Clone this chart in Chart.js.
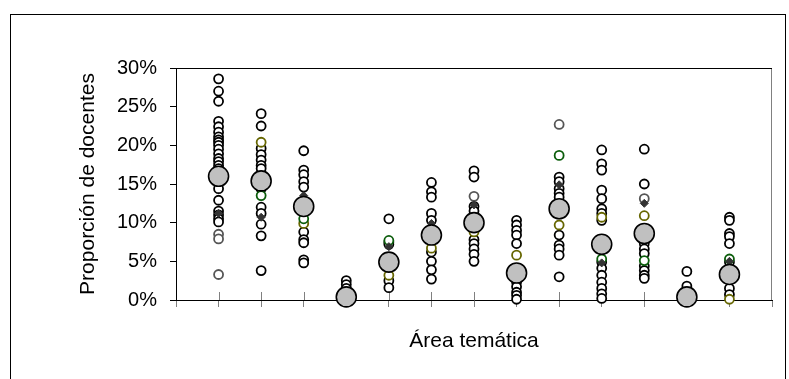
<!DOCTYPE html>
<html>
<head>
<meta charset="utf-8">
<script src="https://cdn.jsdelivr.net/npm/chart.js@4"></script>
<style>
  html, body { margin: 0; padding: 0; background: #fff; }
</style>
</head>
<body>
<canvas id="grafico" width="789" height="379"></canvas>
<script>
// Posición de cada área temática en el eje X (sin etiquetas)
const categorias = [1, 2, 3, 4, 5, 6, 7, 8, 9, 10, 11, 12, 13];

// Valores (%), una lista por área temática
const negros = [
  [28.6, 27.0, 25.7, 23.1, 22.4, 21.7, 21.1, 20.7, 20.4, 20.0, 19.5, 18.9, 18.3, 17.9, 17.4, 17.0, 14.4, 12.9, 11.5, 11.0, 10.5, 10.1],
  [24.1, 22.5, 19.6, 18.8, 18.1, 17.4, 17.0, 14.4, 12.0, 11.2, 9.8, 8.3, 3.8],
  [19.3, 16.8, 16.2, 15.3, 14.6, 8.8, 7.8, 7.4, 5.2, 4.8],
  [2.5, 2.0, 1.5, 0.8, 0.3],
  [10.5, 7.5, 7.2, 2.5, 1.6],
  [15.2, 14.0, 13.3, 11.2, 10.3, 6.2, 5.0, 3.9, 2.7],
  [16.7, 15.9, 12.1, 11.5, 7.8, 7.3, 6.6, 5.9, 5.0],
  [10.3, 9.7, 9.0, 8.4, 7.3, 2.3, 1.7, 1.0, 0.6, 0.1],
  [15.9, 15.3, 14.4, 13.8, 13.3, 8.4, 7.1, 6.6, 5.8, 3.0],
  [19.4, 17.6, 16.8, 14.2, 13.1, 11.8, 11.2, 10.3, 4.9, 4.1, 3.2, 2.3, 1.5, 0.8, 0.2],
  [19.5, 15.0, 7.9, 7.3, 6.6, 6.0, 4.4, 3.8, 3.2, 2.8],
  [3.7, 1.8, 0.8],
  [10.7, 10.3, 8.6, 8.2, 7.3, 4.9, 1.5, 0.7]
];
const grises = [[8.5, 7.9, 3.3], [], [], [], [], [], [13.4], [], [22.7], [], [13.1], [], []];
const oliva = [[], [20.4], [9.9], [], [3.2], [6.7], [8.8], [5.8], [9.7], [10.7], [10.9], [], [0.1]];
const verdes = [[], [13.5], [10.5], [], [7.7], [], [], [], [18.7], [5.3], [5.1], [], [5.3]];
const marcas = [[11.2], [10.7], [13.5], [], [6.9], [9.9], [12.3], [], [14.9], [4.8], [12.5], [], [5.0]];
const medias = [16.0, 15.4, 12.1, 0.4, 4.9, 8.4, 10.0, 3.5, 11.8, 7.2, 8.6, 0.4, 3.3];

const ejeY = { min: 0, max: 30, paso: 5 };

const fuente = "'Liberation Sans', Arial, sans-serif";

function puntos(listas) {
  return listas.flatMap((vals, i) => vals.map(v => ({ x: categorias[i], y: v })));
}

function circulos(datos, borde, orden) {
  return {
    data: puntos(datos),
    pointStyle: 'circle',
    pointRadius: 4.5,
    pointBorderWidth: 1.8,
    pointBackgroundColor: '#fff',
    pointBorderColor: borde,
    order: orden,
    clip: false
  };
}

// Marco exterior, borde superior/derecho del área y parte alta de las marcas del eje X
const marco = {
  id: 'marco',
  beforeDatasetsDraw(chart) {
    const { ctx, chartArea: a, scales: { x } } = chart;
    ctx.save();
    ctx.lineWidth = 1;
    ctx.strokeStyle = '#808080';
    x.ticks.forEach((t, i) => {
      if (i === 0 || i === x.ticks.length - 1) return;
      const px = Math.round(x.getPixelForTick(i)) + 0.5;
      ctx.beginPath();
      ctx.moveTo(px, a.bottom - 8);
      ctx.lineTo(px, a.bottom);
      ctx.stroke();
    });
    ctx.beginPath();
    ctx.moveTo(a.right - 0.5, a.top);
    ctx.lineTo(a.right - 0.5, a.bottom);
    ctx.stroke();
    ctx.strokeStyle = '#000';
    ctx.beginPath();
    ctx.moveTo(a.left, a.top + 0.5);
    ctx.lineTo(a.right, a.top + 0.5);
    ctx.stroke();
    ctx.restore();
  },
  afterDraw(chart) {
    const { ctx } = chart;
    ctx.save();
    ctx.strokeStyle = '#000';
    ctx.lineWidth = 1;
    ctx.strokeRect(10.5, 14.5, 775, 380);
    ctx.restore();
  }
};

new Chart(document.getElementById('grafico'), {
  type: 'scatter',
  data: {
    datasets: [
      {
        data: medias.map((v, i) => ({ x: categorias[i], y: v })),
        pointStyle: 'circle',
        pointRadius: 10,
        pointBorderWidth: 1.6,
        pointBackgroundColor: '#c0c0c0',
        pointBorderColor: '#000',
        order: 0,
        clip: false
      },
      {
        data: puntos(marcas),
        pointStyle: 'rectRot',
        pointRadius: 4,
        pointBorderWidth: 1,
        pointBackgroundColor: '#333',
        pointBorderColor: '#333',
        order: 1,
        clip: false
      },
      circulos(verdes, '#0b5d0b', 2),
      circulos(oliva, '#666600', 3),
      circulos(grises, '#555', 4),
      circulos(negros, '#000', 5)
    ]
  },
  options: {
    responsive: false,
    animation: false,
    events: [],
    layout: { padding: { left: 60, right: 17, top: 68, bottom: 0 } },
    plugins: {
      legend: { display: false },
      tooltip: { enabled: false }
    },
    scales: {
      x: {
        type: 'linear',
        min: 0,
        max: categorias.length + 1,
        ticks: { stepSize: 1, display: false, autoSkip: false, maxTicksLimit: 30 },
        grid: { drawOnChartArea: false, drawTicks: true, tickLength: 7, tickColor: '#808080', tickWidth: 1 },
        border: { display: true, color: '#000', width: 1 },
        title: {
          display: true,
          text: 'Área temática',
          color: '#000',
          font: { family: fuente, size: 21 },
          padding: { top: 0, bottom: 25 }
        },
        afterFit(s) { s.height = 79; }
      },
      y: {
        min: ejeY.min,
        max: ejeY.max,
        ticks: {
          stepSize: ejeY.paso,
          padding: 13,
          color: '#000',
          font: { family: fuente, size: 20 },
          callback: v => v + '%'
        },
        grid: { drawOnChartArea: false, tickLength: 6, tickColor: '#000' },
        border: { display: true, color: '#000', width: 1 },
        title: {
          display: true,
          text: 'Proporción de docentes',
          color: '#000',
          font: { family: fuente, size: 21 },
          padding: { top: 16, bottom: 0 }
        },
        afterFit(s) { s.width = 116; }
      }
    }
  },
  plugins: [marco]
});
</script>
</body>
</html>
